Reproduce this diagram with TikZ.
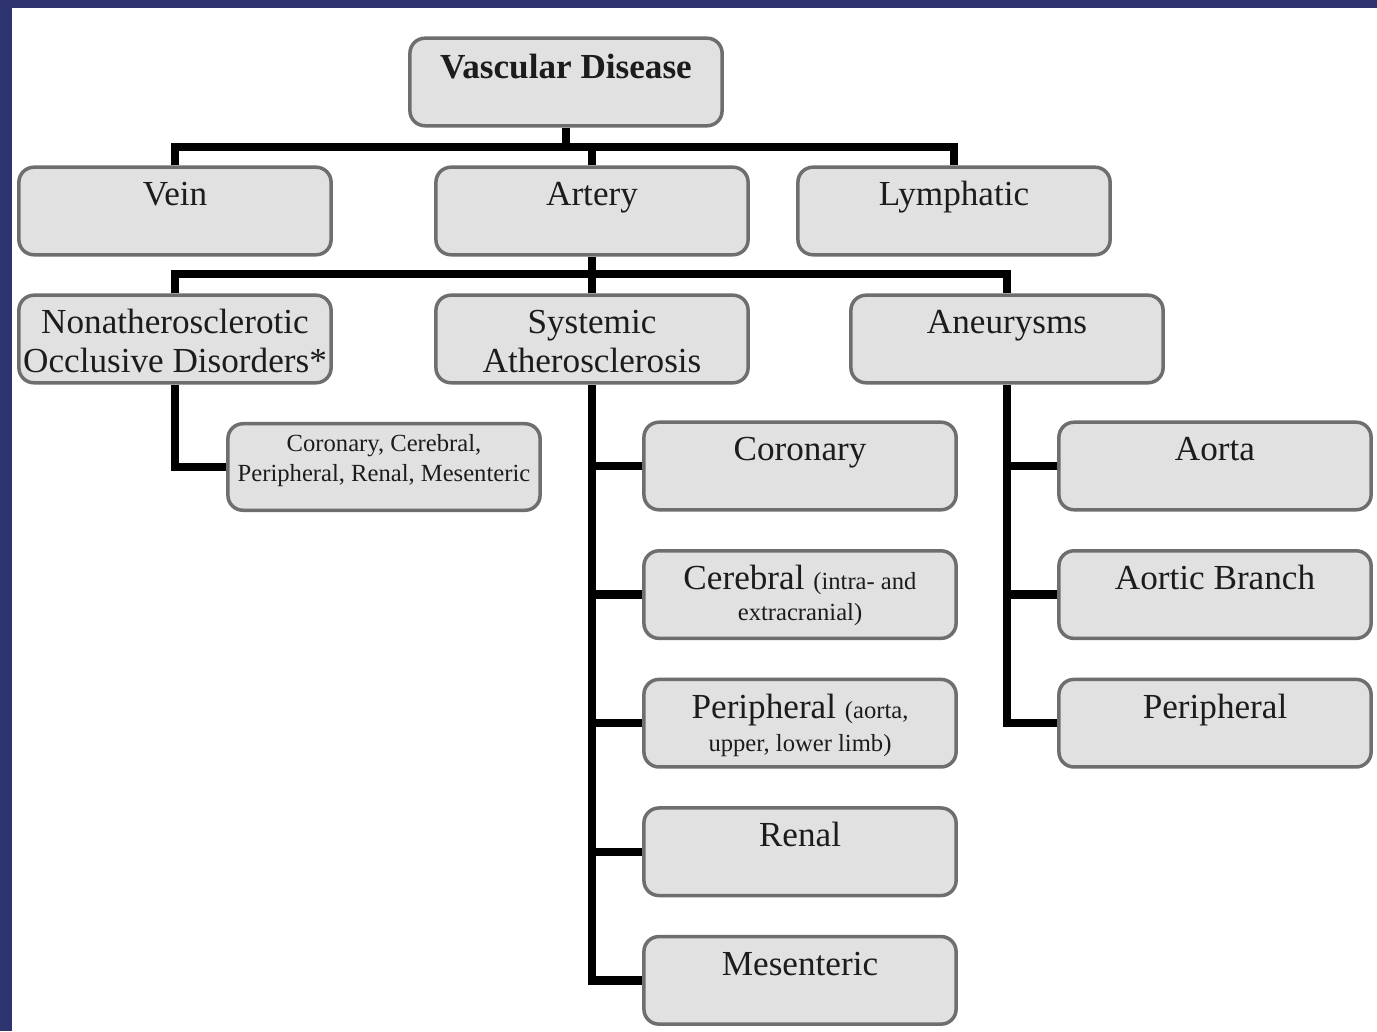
\documentclass[tikz,border=0pt]{standalone}
\usepackage{fontspec}
\setmainfont{Liberation Serif}
\usepackage{tikz}
\usetikzlibrary{positioning}
\definecolor{frame}{HTML}{2E3470}
\definecolor{boxbg}{HTML}{E1E1E1}
\definecolor{boxln}{HTML}{6E6E6E}
\definecolor{ink}{HTML}{1C1C1C}
\newcommand{\smalltxt}{\fontsize{7}{8}\selectfont}

\begin{document}
\begin{tikzpicture}[x=0.01cm,y=-0.01cm,font=\fontsize{10}{11}\selectfont,
 box/.style={draw=boxln,fill=boxbg,line width=0.35mm,rounded corners=1.5mm,text=ink,align=flush center,
   text width=30.9mm,inner xsep=0.15mm,inner ysep=0pt,text height=11pt,text depth=13.9pt},
 link/.style={line width=0.85mm,black}]
\useasboundingbox (0,0) rectangle (1377,1031);
\fill[white] (0,0) rectangle (1377,1031);
\fill[frame] (0,0) rectangle (12,1031);
\fill[frame] (0,0) rectangle (1377,8);

\node[box,font=\fontsize{10}{11}\selectfont\bfseries,text height=11.4pt,text depth=13.5pt] (vd) at (566,82) {Vascular Disease};
\node[box] (vein) at (175,211) {Vein};
\node[box] (artery) at (592,211) {Artery};
\node[box] (lymph) at (954,211) {Lymphatic};
\node[box] (nonath) at (175,339) {Nonatherosclerotic\\Occlusive Disorders*};
\node[box] (sys) at (592,339) {Systemic\\Atherosclerosis};
\node[box] (aneu) at (1007,339) {Aneurysms};
\node[box,font=\fontsize{7}{8.5}\selectfont,text height=8pt,text depth=16.6pt] (occl) at (384,467) {Coronary, Cerebral,\\Peripheral, Renal, Mesenteric};
\node[box] (cor) at (800,466) {Coronary};
\node[box,below=3.75mm of cor] (cere) {Cerebral {\smalltxt (intra- and}\\[-2.2pt]{\smalltxt extracranial)}};
\node[box,below=3.75mm of cere] (peri) {Peripheral {\smalltxt (aorta,}\\[-1.6pt]{\smalltxt upper, lower limb)}};
\node[box,below=3.75mm of peri] (renal) {Renal};
\node[box,below=3.75mm of renal] (mes) {Mesenteric};
\node[box] (aorta) at (1215,466) {Aorta};
\node[box,below=3.75mm of aorta] (branch) {Aortic Branch};
\node[box,below=3.75mm of branch] (aperi) {Peripheral};

\coordinate (b1) at (0,147);
\coordinate (b2) at (0,274);
\draw[link] (vd.south) -- (vd.south |- b1);
\draw[link] (vein.north) |- (lymph.north |- b1) -- (lymph.north);
\draw[link] (artery.north) -- (artery.north |- b1);
\draw[link] (artery.south) -- (artery.south |- b2);
\draw[link] (nonath.north) |- (aneu.north |- b2) -- (aneu.north);
\draw[link] (sys.north) -- (sys.north |- b2);
\draw[link] (nonath.south) |- (occl.west);
\draw[link] (sys.south) |- (mes.west);
\foreach \n in {cor,cere,peri,renal} \draw[link] (\n.west) -- (\n.west -| sys.south);
\draw[link] (aneu.south) |- (aperi.west);
\foreach \n in {aorta,branch} \draw[link] (\n.west) -- (\n.west -| aneu.south);
\end{tikzpicture}
\end{document}
